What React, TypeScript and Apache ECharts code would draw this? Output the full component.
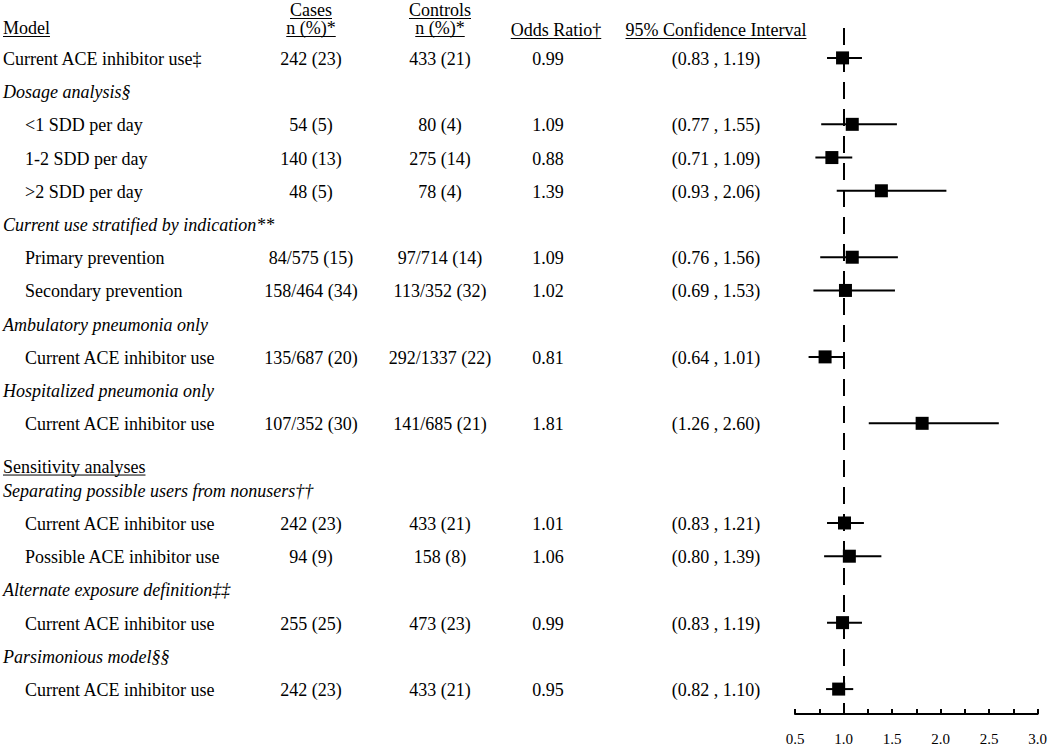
import React, { useEffect, useRef } from "react";
import * as echarts from "echarts";

// ---------- data ----------
const rowLabels = [
  "Current ACE inhibitor use‡",
  "Dosage analysis§",
  "<1 SDD per day",
  "1-2 SDD per day",
  ">2 SDD per day",
  "Current use stratified by indication**",
  "Primary prevention",
  "Secondary prevention",
  "Ambulatory pneumonia only",
  "Current ACE inhibitor use",
  "Hospitalized pneumonia only",
  "Current ACE inhibitor use",
  "Sensitivity analyses",
  "Separating possible users from nonusers††",
  "Current ACE inhibitor use",
  "Possible ACE inhibitor use",
  "Alternate exposure definition‡‡",
  "Current ACE inhibitor use",
  "Parsimonious model§§",
  "Current ACE inhibitor use",
];
// top: main row, section: italic subheading, sub: indented row, heading: underlined heading
const rowKinds = [
  "top", "section", "sub", "sub", "sub", "section", "sub", "sub", "section", "sub",
  "section", "sub", "heading", "section", "sub", "sub", "section", "sub", "section", "sub",
];
const casesText = [
  "242 (23)", "", "54 (5)", "140 (13)", "48 (5)", "", "84/575 (15)", "158/464 (34)", "", "135/687 (20)",
  "", "107/352 (30)", "", "", "242 (23)", "94 (9)", "", "255 (25)", "", "242 (23)",
];
const controlsText = [
  "433 (21)", "", "80 (4)", "275 (14)", "78 (4)", "", "97/714 (14)", "113/352 (32)", "", "292/1337 (22)",
  "", "141/685 (21)", "", "", "433 (21)", "158 (8)", "", "473 (23)", "", "433 (21)",
];
const oddsRatio: (number | null)[] = [
  0.99, null, 1.09, 0.88, 1.39, null, 1.09, 1.02, null, 0.81,
  null, 1.81, null, null, 1.01, 1.06, null, 0.99, null, 0.95,
];
const ciLower: (number | null)[] = [
  0.83, null, 0.77, 0.71, 0.93, null, 0.76, 0.69, null, 0.64,
  null, 1.26, null, null, 0.83, 0.80, null, 0.83, null, 0.82,
];
const ciUpper: (number | null)[] = [
  1.19, null, 1.55, 1.09, 2.06, null, 1.56, 1.53, null, 1.01,
  null, 2.60, null, null, 1.21, 1.39, null, 1.19, null, 1.10,
];
const xTickLabels = ["0.5", "1.0", "1.5", "2.0", "2.5", "3.0"];
const headerTop = ["Cases", "Controls"];
const headerBottom = ["Model", "n (%)*", "n (%)*", "Odds Ratio†", "95% Confidence Interval"];

// ---------- layout ----------
const FONT = '"Liberation Serif", "Times New Roman", serif';
const FS = 18;
const COL = { model: 3, indent: 25, cases: 311, controls: 440, or: 548, ci: 716 };

function fmt(v: number) {
  return v.toFixed(2);
}

export default function App() {
  const ref = useRef<HTMLDivElement>(null);
  useEffect(() => {
    document.body.style.margin = "0";
    if (!ref.current) return;
    const chart = echarts.init(ref.current, undefined, { renderer: "svg" });

    const ciData = oddsRatio
      .map((v, i) => (v == null ? null : [ciLower[i], ciUpper[i], i]))
      .filter((d) => d != null);
    const orData = oddsRatio
      .map((v, i) => (v == null ? null : [v, i]))
      .filter((d) => d != null);

    chart.setOption({
      animation: false,
      grid: { left: 795, right: 10, top: 28, bottom: 32 },
      xAxis: {
        type: "value",
        min: 0.5,
        max: 3,
        interval: 0.5,
        axisLine: { onZero: false, lineStyle: { color: "#000", width: 2 } },
        axisTick: { inside: true, length: 5, lineStyle: { color: "#000", width: 2 } },
        minorTick: { show: true, splitNumber: 2, length: 5, lineStyle: { color: "#000", width: 2 } },
        splitLine: { show: false },
        minorSplitLine: { show: false },
        axisLabel: {
          color: "#000",
          fontFamily: FONT,
          fontSize: 15,
          margin: 17,
          formatter: (v: number) => {
            const idx = Math.round((v - 0.5) / 0.5);
            return xTickLabels[idx] ?? "";
          },
        },
      },
      yAxis: { type: "value", inverse: true, min: -0.9, max: 19.75, show: false },
      series: [
        {
          type: "line",
          data: [],
          z: 1,
          markLine: {
            silent: true,
            symbol: "none",
            label: { show: false },
            lineStyle: { color: "#000", width: 2, type: [17, 10] },
            data: [{ xAxis: 1 }],
          },
        },
        {
          type: "custom",
          z: 2,
          data: ciData,
          encode: { x: [0, 1], y: 2 },
          renderItem: (_p: any, api: any) => {
            const y = api.value(2);
            const a = api.coord([api.value(0), y]);
            const b = api.coord([api.value(1), y]);
            return {
              type: "line",
              shape: { x1: a[0], y1: a[1], x2: b[0], y2: b[1] },
              style: { stroke: "#000", lineWidth: 2 },
            };
          },
        },
        {
          type: "scatter",
          z: 3,
          symbol: "rect",
          symbolSize: 13,
          itemStyle: { color: "#000", opacity: 1 },
          data: orData,
        },
      ],
    });

    // table text
    const ctx = document.createElement("canvas").getContext("2d")!;
    const measure = (t: string, italic = false) => {
      ctx.font = `${italic ? "italic " : ""}${FS}px ${FONT}`;
      return ctx.measureText(t).width;
    };
    const rowY = (i: number) => chart.convertToPixel({ gridIndex: 0 }, [1, i])[1];
    const els: any[] = [];
    const txt = (t: string, x: number, y: number, align: string, italic = false) => {
      els.push({
        type: "text",
        x,
        y,
        style: {
          text: t,
          font: `${italic ? "italic " : ""}${FS}px ${FONT}`,
          fill: "#000",
          align,
          verticalAlign: "middle",
        },
      });
    };
    const underline = (t: string, x: number, y: number, align: string) => {
      const w = measure(t);
      const x0 = align === "center" ? x - w / 2 : x;
      els.push({
        type: "line",
        shape: { x1: x0, y1: y + 8.5, x2: x0 + w, y2: y + 8.5 },
        style: { stroke: "#000", lineWidth: 1 },
      });
    };

    // headers
    const yH1 = 10;
    const yH2 = 28;
    const yH3 = 30;
    txt(headerTop[0], COL.cases, yH1, "center");
    underline(headerTop[0], COL.cases, yH1, "center");
    txt(headerTop[1], COL.controls, yH1, "center");
    underline(headerTop[1], COL.controls, yH1, "center");
    txt(headerBottom[0], COL.model, yH2, "left");
    underline(headerBottom[0], COL.model, yH2, "left");
    txt(headerBottom[1], COL.cases, yH2, "center");
    underline(headerBottom[1], COL.cases, yH2, "center");
    txt(headerBottom[2], COL.controls, yH2, "center");
    underline(headerBottom[2], COL.controls, yH2, "center");
    txt(headerBottom[3], COL.or + 8, yH3, "center");
    underline(headerBottom[3], COL.or + 8, yH3, "center");
    txt(headerBottom[4], COL.ci, yH3, "center");
    underline(headerBottom[4], COL.ci, yH3, "center");

    rowLabels.forEach((label, i) => {
      const kind = rowKinds[i];
      let y = rowY(i) + 1;
      if (kind === "heading") y += 9;
      const x = kind === "sub" ? COL.indent : COL.model;
      txt(label, x, y, "left", kind === "section");
      if (kind === "heading") underline(label, x, y, "left");
      if (casesText[i]) txt(casesText[i], COL.cases, y, "center");
      if (controlsText[i]) txt(controlsText[i], COL.controls, y, "center");
      const orv = oddsRatio[i];
      if (orv != null) {
        txt(fmt(orv), COL.or, y, "center");
        txt(`(${fmt(ciLower[i] as number)} , ${fmt(ciUpper[i] as number)})`, COL.ci, y, "center");
      }
    });

    chart.setOption({ graphic: els });

    return () => chart.dispose();
  }, []);
  return <div ref={ref} style={{ width: 1050, height: 746 }} />;
}
